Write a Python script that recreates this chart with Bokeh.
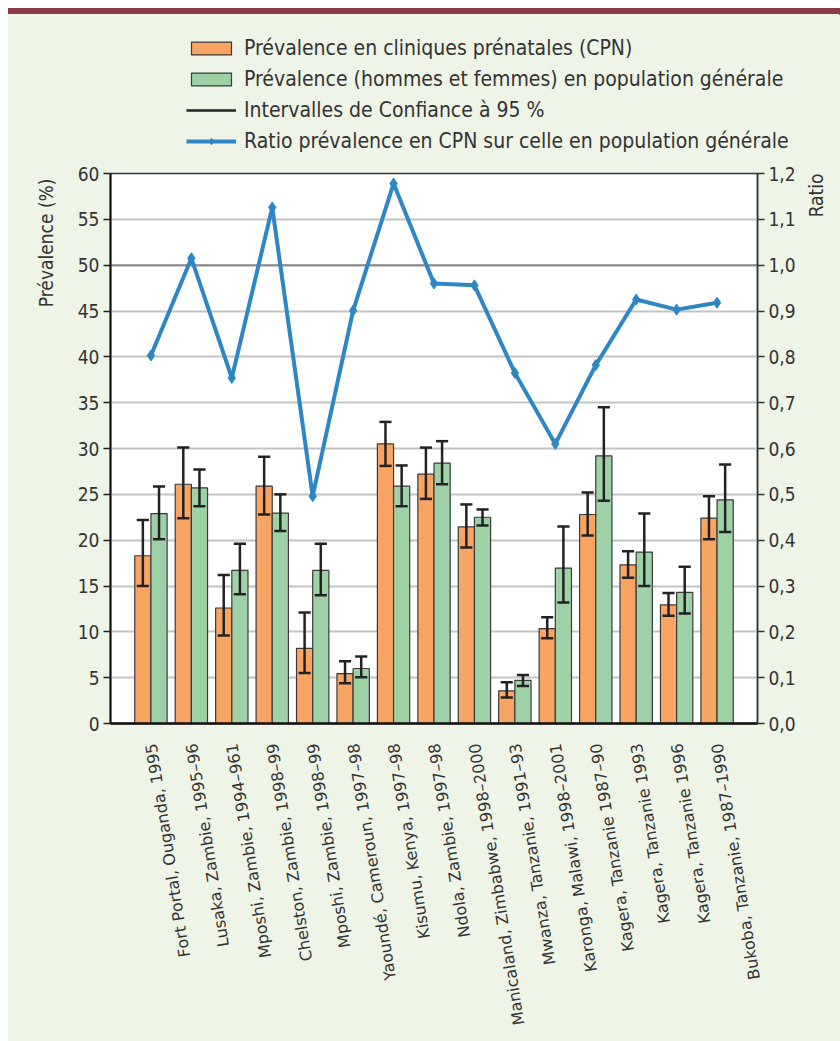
import math
from bokeh.plotting import figure
from bokeh.models import (Range1d, LinearAxis, FixedTicker, CustomJSTickFormatter,
                          Legend, LegendItem, Title, Span, Div, Spacer, ColumnDataSource)
from bokeh.layouts import column, row
from bokeh.embed import file_html
from bokeh.resources import INLINE

# ---------------- data ----------------
sites = [
    "Fort Portal, Ouganda, 1995",
    "Lusaka, Zambie, 1995–96",
    "Mposhi, Zambie, 1994–961",
    "Chelston, Zambie, 1998–99",
    "Mposhi, Zambie, 1998–99",
    "Yaoundé, Cameroun, 1997–98",
    "Kisumu, Kenya, 1997–98",
    "Ndola, Zambie, 1997–98",
    "Manicaland, Zimbabwe, 1998–2000",
    "Mwanza, Tanzanie, 1991–93",
    "Karonga, Malawi, 1998–2001",
    "Kagera, Tanzanie 1987–90",
    "Kagera, Tanzanie 1993",
    "Kagera, Tanzanie 1996",
    "Bukoba, Tanzanie, 1987–1990",
]
cpn = [18.3, 26.1, 12.6, 25.9, 8.2, 5.45, 30.5, 27.2, 21.45, 3.56, 10.36, 22.8, 17.3, 12.95, 22.4]
cpn_low = [15.0, 22.4, 9.6, 22.8, 5.5, 4.4, 28.1, 24.5, 19.2, 2.84, 9.3, 20.5, 15.9, 11.75, 20.1]
cpn_high = [22.2, 30.1, 16.2, 29.1, 12.1, 6.8, 32.9, 30.1, 23.9, 4.5, 11.6, 25.2, 18.8, 14.25, 24.8]
pop = [22.9, 25.7, 16.7, 22.95, 16.7, 6.0, 25.9, 28.4, 22.5, 4.7, 16.95, 29.2, 18.7, 14.3, 24.4]
pop_low = [20.1, 23.7, 14.1, 21.0, 14.0, 5.05, 23.7, 26.1, 21.6, 4.1, 13.2, 24.3, 15.0, 12.0, 20.9]
pop_high = [25.85, 27.7, 19.6, 25.0, 19.6, 7.3, 28.15, 30.8, 23.35, 5.3, 21.5, 34.5, 22.9, 17.1, 28.25]
ratio = [0.803, 1.015, 0.754, 1.126, 0.496, 0.901, 1.178, 0.96, 0.956, 0.765, 0.61, 0.782, 0.925, 0.903, 0.918]

left_ticks = list(range(0, 61, 5))
right_ticks = [i / 10 for i in range(13)]

# ---------------- styles / geometry ----------------
BG = "#EEF4E6"
ORANGE = "#F8A563"
GREEN = "#9ED2A6"
BLUE = "#2F86C3"
TXT = "#333333"
FONT_C = "DejaVu Sans Condensed"
FONT_X = "DejaVu Sans"

W_ALL = 832
H_LEG = 149            # legend strip height
W, H = 792, 878        # main chart
WR = W_ALL - W         # strip holding the right "Ratio" title

idx = list(range(1, len(sites) + 1))
BW = 0.4
CAP = 0.15
xo = [i - BW / 2 for i in idx]
xg = [i + BW / 2 for i in idx]
src = ColumnDataSource(dict(
    x=idx, xo=xo, xg=xg,
    xo0=[v - CAP for v in xo], xo1=[v + CAP for v in xo],
    xg0=[v - CAP for v in xg], xg1=[v + CAP for v in xg],
    cpn=cpn, cpn_low=cpn_low, cpn_high=cpn_high,
    pop=pop, pop_low=pop_low, pop_high=pop_high,
    ratio=ratio,
))

BAR_STYLE = dict(line_color="#3A3A3A", line_width=1.2)
EC, EW = "#222222", 2.5


def draw_series(fig):
    """Draw bars, error bars and the ratio line on fig; return renderers for the legend."""
    r_or = fig.vbar(x="xo", top="cpn", width=BW, source=src, fill_color=ORANGE, **BAR_STYLE)
    r_gr = fig.vbar(x="xg", top="pop", width=BW, source=src, fill_color=GREEN, **BAR_STYLE)
    r_err = fig.segment(x0="xo", y0="cpn_low", x1="xo", y1="cpn_high", source=src,
                        line_color=EC, line_width=EW)
    fig.segment(x0="xg", y0="pop_low", x1="xg", y1="pop_high", source=src, line_color=EC, line_width=EW)
    for xa, xb, yk in [("xo0", "xo1", "cpn_low"), ("xo0", "xo1", "cpn_high"),
                       ("xg0", "xg1", "pop_low"), ("xg0", "xg1", "pop_high")]:
        fig.segment(x0=xa, y0=yk, x1=xb, y1=yk, source=src, line_color=EC, line_width=EW)
    r_line = fig.line(x="x", y="ratio", source=src, y_range_name="ratio", line_color=BLUE, line_width=4)
    r_pts = fig.scatter(x="x", y="ratio", source=src, y_range_name="ratio", marker="diamond",
                        size=11, fill_color=BLUE, line_color=BLUE)
    return r_or, r_gr, r_err, r_line, r_pts


# ---------------- main chart ----------------
p = figure(width=W, height=H, x_range=Range1d(0, 16), y_range=Range1d(0, 60),
           output_backend="svg", toolbar_location=None,
           min_border_left=102, min_border_right=W - 749, min_border_top=10, min_border_bottom=318)
p.border_fill_color = BG
p.background_fill_color = "white"
p.outline_line_color = "#333333"
p.outline_line_width = 1.5
p.extra_y_ranges = {"ratio": Range1d(0, 1.2)}
p.margin = (0, 0, 0, 0)

p.xgrid.visible = False
p.ygrid.ticker = FixedTicker(ticks=left_ticks[:-1])
p.ygrid.grid_line_color = "#C3C3C3"
p.ygrid.grid_line_width = 2
p.add_layout(Span(location=50, dimension="width", line_color="#8A8A8A", line_width=2, level="underlay"))

draw_series(p)

p.yaxis.ticker = FixedTicker(ticks=left_ticks)
yax = p.yaxis[0]
yax.axis_line_color = "#111111"
yax.axis_line_width = 2
yax.major_tick_out = 7
yax.major_tick_in = 0
yax.minor_tick_out = 0
yax.major_tick_line_color = "#222222"
yax.major_tick_line_width = 1.5
yax.major_label_standoff = 4
yax.major_label_text_font = FONT_C
yax.major_label_text_font_size = "19px"
yax.major_label_text_color = TXT

rax = LinearAxis(y_range_name="ratio", ticker=FixedTicker(ticks=right_ticks),
                 formatter=CustomJSTickFormatter(code="return tick.toFixed(1).replace('.', ',');"))
rax.axis_line_color = "#333333"
rax.axis_line_width = 1.5
rax.major_tick_out = 7
rax.major_tick_in = 0
rax.minor_tick_out = 0
rax.major_tick_line_color = "#333333"
rax.major_tick_line_width = 1.5
rax.major_label_standoff = 4
rax.major_label_text_font = FONT_C
rax.major_label_text_font_size = "19px"
rax.major_label_text_color = TXT
p.add_layout(rax, "right")

xax = p.xaxis[0]
xax.ticker = FixedTicker(ticks=idx)
xax.major_label_overrides = {i: s for i, s in zip(idx, sites)}
xax.major_label_orientation = math.radians(99)
xax.axis_line_color = "#111111"
xax.axis_line_width = 2.5
xax.major_tick_out = 0
xax.major_tick_in = 0
xax.minor_tick_out = 0
xax.major_label_standoff = 20
xax.major_label_text_font = FONT_X
xax.major_label_text_font_size = "16px"
xax.major_label_text_color = TXT

p.add_layout(Title(text="Prévalence (%)", align="right", offset=5, standoff=36,
                   text_font=FONT_C, text_font_size="19px", text_font_style="normal",
                   text_color=TXT), "left")

# ---------------- "Ratio" title strip ----------------
pr = figure(width=WR, height=H, x_range=Range1d(0, 1), y_range=Range1d(0, 1),
            output_backend="svg", toolbar_location=None,
            min_border_left=0, min_border_right=0, min_border_top=10, min_border_bottom=318)
pr.axis.visible = False
pr.grid.visible = False
pr.outline_line_color = None
pr.background_fill_color = BG
pr.border_fill_color = BG
pr.margin = (0, 0, 0, 0)
pr.add_layout(Title(text="Ratio", align="right", offset=0, standoff=4,
                    text_font=FONT_C, text_font_size="19px", text_font_style="normal",
                    text_color=TXT), "left")

# ---------------- legend strip ----------------
pl = figure(width=W_ALL, height=H_LEG, x_range=Range1d(-100, -99), y_range=Range1d(-100, -99),
            output_backend="svg", toolbar_location=None,
            min_border_left=0, min_border_right=0, min_border_top=0, min_border_bottom=0)
pl.extra_y_ranges = {"ratio": Range1d(-100, -99)}
pl.axis.visible = False
pl.grid.visible = False
pl.outline_line_color = None
pl.background_fill_color = BG
pl.border_fill_color = BG
pl.margin = (0, 0, 0, 0)
l_or, l_gr, l_err, l_line, l_pts = draw_series(pl)

legend = Legend(items=[
    LegendItem(label="Prévalence en cliniques prénatales (CPN)", renderers=[l_or]),
    LegendItem(label="Prévalence (hommes et femmes) en population générale", renderers=[l_gr]),
    LegendItem(label="Intervalles de Confiance à 95 %", renderers=[l_err]),
    LegendItem(label="Ratio prévalence en CPN sur celle en population générale", renderers=[l_line, l_pts]),
], location=(178, 10))
legend.background_fill_alpha = 0
legend.border_line_alpha = 0
legend.padding = 0
legend.margin = 0
legend.glyph_width = 50
legend.glyph_height = 16
legend.label_height = 16
legend.spacing = 7
legend.label_standoff = 8
legend.label_text_font = FONT_C
legend.label_text_font_size = "21px"
legend.label_text_color = TXT
pl.add_layout(legend, "center")

band = Div(text="", width=W_ALL, height=6, margin=(0, 0, 0, 0),
           styles={"background-color": "#8E3B48"})
chart_block = column(pl, row(p, pr, spacing=0, styles={"background-color": BG}),
                     spacing=0, styles={"background-color": BG})
layout = row(Spacer(width=8, height=8),
             column(Spacer(width=W_ALL, height=8), band, chart_block, spacing=0),
             spacing=0)

open("out.html", "w").write(file_html(layout, INLINE))
